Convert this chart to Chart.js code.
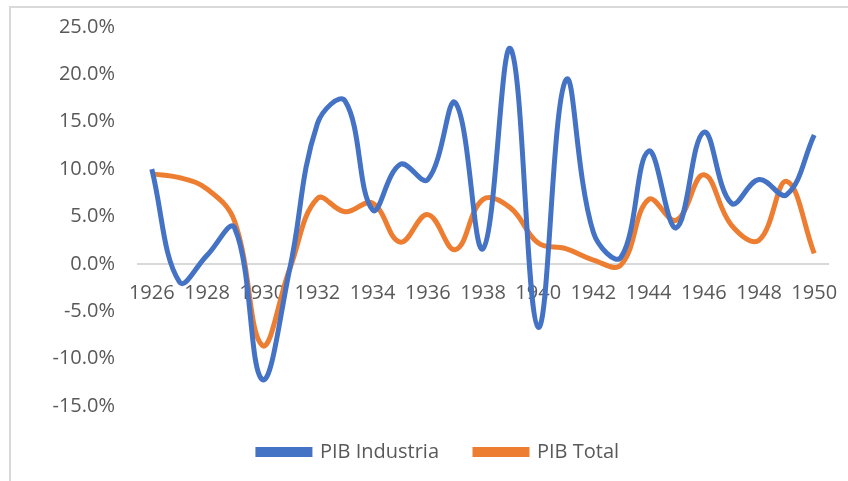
<!DOCTYPE html>
<html>
<head>
<meta charset="utf-8">
<script src="https://cdn.jsdelivr.net/npm/chart.js@4"></script>
<style>
    html, body { margin: 0; padding: 0; background: #fff; }
    #frame {
        position: absolute; left: 9px; top: 6px; right: 0; bottom: 0;
        border-left: 2px solid #d9d9d9; border-top: 2px solid #d9d9d9;
    }
    #wrap { position: absolute; left: 0; top: 0; width: 848px; height: 481px; }
</style>
</head>
<body>
<div id="frame"></div>
<div id="wrap"><canvas id="pibChart"></canvas></div>
<script>
// Years and growth rates (%)
const years = ['1926', '1927', '1928', '1929', '1930', '1931', '1932', '1933', '1934', '1935',
    '1936', '1937', '1938', '1939', '1940', '1941', '1942', '1943', '1944', '1945',
    '1946', '1947', '1948', '1949', '1950'];

const pibIndustria = [10.0, -1.9, 0.9, 3.8, -12.2, -0.5, 14.8, 17.2, 5.7, 10.5,
    8.9, 17.0, 1.6, 22.7, -6.7, 19.4, 3.3, 0.7, 11.9, 3.8,
    13.9, 6.4, 8.9, 7.3, 13.6];

const pibTotal = [9.5, 9.1, 7.9, 4.5, -8.6, -0.5, 6.9, 5.5, 6.4, 2.3,
    5.2, 1.5, 6.8, 5.9, 2.2, 1.6, 0.4, -0.1, 6.8, 4.6,
    9.4, 4.1, 2.5, 8.7, 1.1];

const yTicks = { min: -15, max: 25, step: 5 };

document.addEventListener('DOMContentLoaded', function() {
    const font = { family: "'Open Sans', sans-serif", size: 20 };
    const ctx = document.getElementById('pibChart');

    new Chart(ctx, {
        type: 'line',
        data: {
            labels: years,
            datasets: [{
                label: 'PIB Industria',
                data: pibIndustria,
                borderColor: '#4472c4',
                backgroundColor: '#4472c4',
                borderWidth: 5,
                pointRadius: 0,
                tension: 0.4,
                fill: false
            }, {
                label: 'PIB Total',
                data: pibTotal,
                borderColor: '#ed7d31',
                backgroundColor: '#ed7d31',
                borderWidth: 5,
                pointRadius: 0,
                tension: 0.4,
                fill: false
            }]
        },
        options: {
            responsive: true,
            maintainAspectRatio: false,
            animation: false,
            layout: { padding: { left: 49, right: 20, top: 21, bottom: 9 } },
            plugins: {
                tooltip: { enabled: false },
                legend: {
                    position: 'bottom',
                    labels: {
                        boxWidth: 52,
                        boxHeight: 5,
                        padding: 36,
                        color: '#595959',
                        font: font
                    }
                }
            },
            scales: {
                x: {
                    position: { y: 0 },
                    offset: true,
                    grid: {
                        display: true,
                        drawOnChartArea: false,
                        drawTicks: true,
                        tickLength: 17,
                        tickColor: 'rgba(0,0,0,0)'
                    },
                    border: { display: true, color: '#d9d9d9', width: 2 },
                    ticks: {
                        autoSkip: false,
                        maxRotation: 0,
                        padding: 0,
                        color: '#595959',
                        font: font,
                        callback: function(value, index) {
                            return index % 2 === 0 ? years[index] : '';
                        }
                    }
                },
                y: {
                    min: yTicks.min,
                    max: yTicks.max,
                    grid: { display: false },
                    border: { display: false },
                    afterFit: function(scale) { scale.width = 89; },
                    ticks: {
                        stepSize: yTicks.step,
                        padding: 15,
                        color: '#595959',
                        font: font,
                        callback: function(value) { return value.toFixed(1) + '%'; }
                    }
                }
            }
        }
    });
});
</script>
</body>
</html>
